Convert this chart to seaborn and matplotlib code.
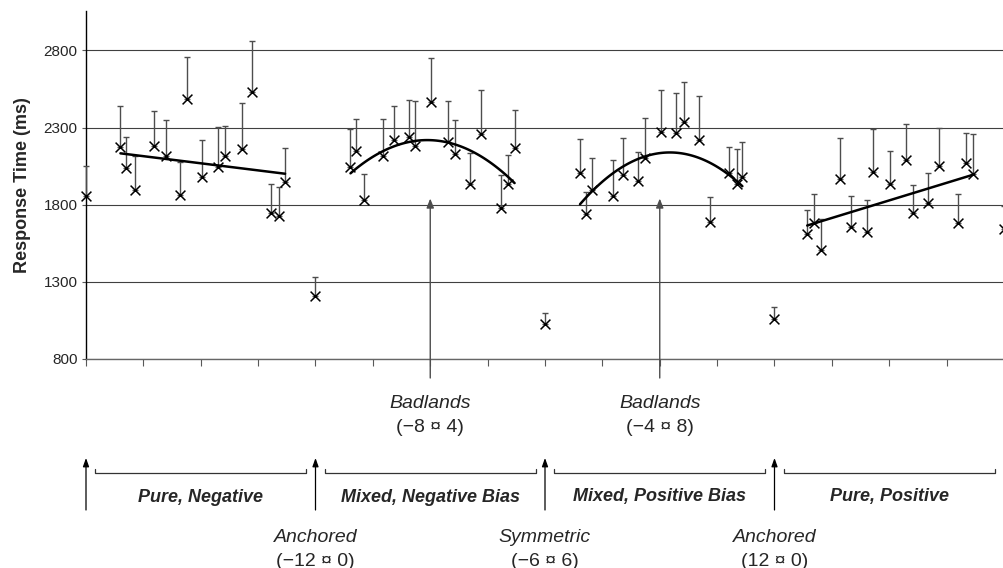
import numpy as np
import pandas as pd
import matplotlib
matplotlib.use("Agg")
import matplotlib.pyplot as plt
import seaborn as sns

# ---------------- data ----------------
pure_neg_x = [0.60, 0.70, 0.85, 1.18, 1.39, 1.63, 1.76, 2.02, 2.30, 2.43, 2.72, 2.90, 3.23, 3.37, 3.47]
pure_neg_rt = [2176, 2035, 1898, 2183, 2117, 1861, 2487, 1977, 2042, 2117, 2161, 2528, 1748, 1724, 1944]
pure_neg_se = [261, 202, 217, 226, 231, 217, 269, 243, 262, 196, 298, 333, 185, 191, 222]

mixed_neg_x = [4.61, 4.71, 4.84, 5.17, 5.36, 5.63, 5.74, 6.01, 6.31, 6.43, 6.69, 6.89, 7.24, 7.36, 7.47]
mixed_neg_rt = [2046, 2150, 1833, 2115, 2220, 2237, 2181, 2466, 2209, 2128, 1937, 2259, 1778, 1937, 2166]
mixed_neg_se = [243, 205, 165, 240, 221, 239, 288, 282, 260, 222, 196, 287, 214, 185, 249]

mixed_pos_x = [8.61, 8.71, 8.82, 9.18, 9.36, 9.62, 9.75, 10.02, 10.29, 10.43, 10.69, 10.87, 11.20, 11.34, 11.44]
mixed_pos_rt = [2003, 1742, 1894, 1857, 1992, 1954, 2100, 2274, 2263, 2333, 2220, 1687, 2003, 1937, 1977]
mixed_pos_se = [223, 137, 210, 232, 239, 187, 261, 272, 261, 260, 287, 163, 173, 224, 228]

pure_pos_x = [12.57, 12.68, 12.81, 13.15, 13.33, 13.61, 13.72, 14.01, 14.30, 14.42, 14.68, 14.86, 15.20, 15.34, 15.46]
pure_pos_rt = [1611, 1681, 1509, 1965, 1654, 1626, 2009, 1933, 2089, 1746, 1811, 2050, 1681, 2068, 1998]
pure_pos_se = [152, 187, 200, 266, 203, 207, 280, 217, 233, 180, 192, 250, 191, 199, 259]

anchor_x = [0, 4, 8, 12, 16]
anchor_rt = [1857, 1205, 1025, 1057, 1644]
anchor_se = [193, 128, 71, 82, 150]

fit_orders = [1, 2, 2, 1]
segment_labels = ["Pure, Negative", "Mixed, Negative Bias", "Mixed, Positive Bias", "Pure, Positive"]
segment_bounds = [0, 4, 8, 12, 16]
boundary_names = ["Anchored", "Symmetric", "Anchored"]
boundary_ranges = ["(\u221212 \u00a4 0)", "(\u22126 \u00a4 6)", "(12 \u00a4 0)"]
boundary_x = [4, 8, 12]
badland_x = [6, 10]
badland_ranges = ["(\u22128 \u00a4 4)", "(\u22124 \u00a4 8)"]
y_ticks = [800, 1300, 1800, 2300, 2800]

segments = [
    (pure_neg_x, pure_neg_rt, pure_neg_se),
    (mixed_neg_x, mixed_neg_rt, mixed_neg_se),
    (mixed_pos_x, mixed_pos_rt, mixed_pos_se),
    (pure_pos_x, pure_pos_rt, pure_pos_se),
]

# ---------------- styling ----------------
sns.set_style("white")
plt.rcParams["font.family"] = ["Liberation Sans", "DejaVu Sans"]

fig = plt.figure(figsize=(10.04, 5.68), dpi=100)
W, H = 1004, 568
ax_left, ax_right, ax_top, ax_bottom = 86, 1004, 11, 359
ax = fig.add_axes([ax_left / W, 1 - ax_bottom / H, (ax_right - ax_left) / W, (ax_bottom - ax_top) / H])

ink = "black"
bar_col = "0.3"

all_x, all_rt, all_se = [], [], []
for (xs, rts, ses), order in zip(segments, fit_orders):
    all_x += xs; all_rt += rts; all_se += ses
    sns.regplot(x=np.array(xs), y=np.array(rts), order=order, ci=None, scatter=False,
                truncate=True, ax=ax, line_kws=dict(color=ink, lw=1.8, zorder=4))
all_x += anchor_x; all_rt += anchor_rt; all_se += anchor_se

df = pd.DataFrame({"x": all_x, "rt": all_rt, "se": all_se})
eb = ax.errorbar(df["x"], df["rt"], yerr=[np.zeros(len(df)), df["se"]], fmt="none",
                 ecolor=bar_col, elinewidth=1.0, capsize=2.5, capthick=1.0, zorder=3)
for art in eb.lines[1] + eb.lines[2]:
    art.set_clip_on(False)
sns.scatterplot(data=df, x="x", y="rt", marker="x", color=ink, s=50, linewidth=1.1,
                ax=ax, legend=False, zorder=5, clip_on=False)

ax.set_xlim(0, (ax_right - ax_left) / 57.5)
ax.set_ylim(800, 3055)
ax.set_yticks(y_ticks)
ax.set_yticklabels([str(v) for v in y_ticks], fontsize=11)
ax.set_xticks(range(0, 17))
ax.set_xticklabels([])
ax.tick_params(axis="x", direction="out", length=5, width=0.8, color="0.35", bottom=True)
ax.tick_params(axis="y", direction="out", length=3, width=0.8, color="0.35", left=True, pad=3)
ax.set_xlabel("")
ax.set_ylabel("Response Time (ms)", fontsize=13, fontweight="bold")
ax.yaxis.set_label_coords(-0.060, 0.5)
ax.yaxis.grid(True, color="0.25", lw=0.8)
ax.xaxis.grid(False)
ax.set_axisbelow(True)
for s in ["top", "right"]:
    ax.spines[s].set_visible(False)
ax.spines["left"].set_color("black")
ax.spines["left"].set_linewidth(1.0)
ax.spines["bottom"].set_color("0.4")
ax.spines["bottom"].set_linewidth(1.0)

# ---------------- annotations ----------------
xt = ax.get_xaxis_transform()
def fy(ypx):
    return (ax_bottom - ypx) / (ax_bottom - ax_top)

arrow_kw = dict(arrowstyle="-|>,head_length=0.55,head_width=0.22", color="0.3", lw=1.0,
                shrinkA=0, shrinkB=0)

# Badlands arrows inside plot
for bx, rng in zip(badland_x, badland_ranges):
    ax.annotate("", xy=(bx, 1840), xycoords="data", xytext=(bx, fy(378)), textcoords=xt,
                arrowprops=arrow_kw, annotation_clip=False)
    ax.text(bx, fy(403), "Badlands", transform=xt, ha="center", va="center",
            fontsize=14, style="italic")
    ax.text(bx, fy(428), rng, transform=xt, ha="center", va="center", fontsize=14)

# boundary arrows below axis
for bx in segment_bounds[:4]:
    ax.annotate("", xy=(bx, fy(458)), xycoords=xt, xytext=(bx, fy(510)), textcoords=xt,
                arrowprops=dict(arrowstyle="-|>,head_length=0.5,head_width=0.18", color="black",
                                lw=0.9, shrinkA=0, shrinkB=0), annotation_clip=False)

# brackets and segment labels
for i, lab in enumerate(segment_labels):
    a, b = segment_bounds[i] + 0.16, segment_bounds[i + 1] - 0.16
    ax.plot([a, a, b, b], [fy(469), fy(473), fy(473), fy(469)], transform=xt,
            color="0.2", lw=0.9, clip_on=False)
    ax.text((segment_bounds[i] + segment_bounds[i + 1]) / 2, fy(497), lab, transform=xt,
            ha="center", va="center", fontsize=13, style="italic", fontweight="bold")

for bx, name, rng in zip(boundary_x, boundary_names, boundary_ranges):
    ax.text(bx, fy(538), name, transform=xt, ha="center", va="center", fontsize=14, style="italic")
    ax.text(bx, fy(561), rng, transform=xt, ha="center", va="center", fontsize=14)

fig.savefig("out.png", dpi=100)
